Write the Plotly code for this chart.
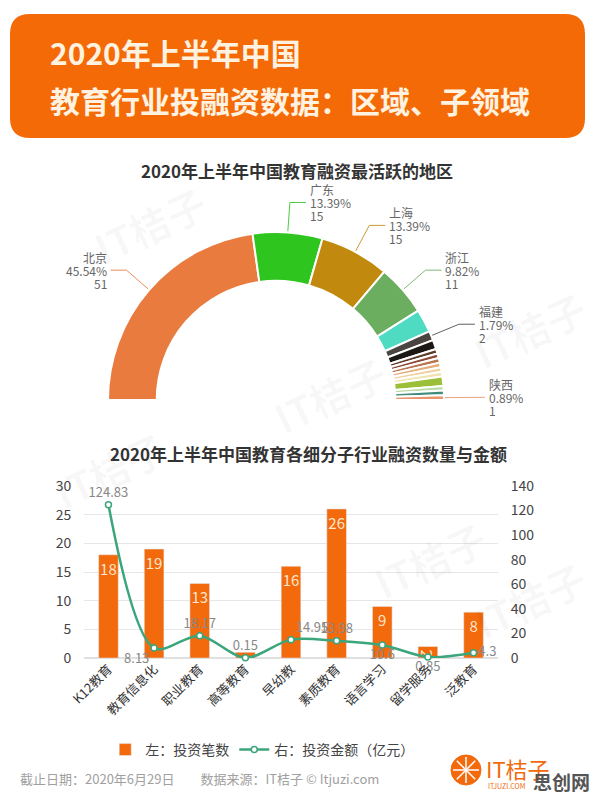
import math
import plotly.graph_objects as go

# ---------------- data ----------------
regions = ['北京', '广东', '上海', '浙江', '江苏', '福建', '湖北', '四川', '天津',
           '湖南', '山东', '安徽', '重庆', '河南', '香港', '辽宁', '陕西']
region_counts = [51, 15, 15, 11, 5, 2, 2, 1, 1, 1, 1, 1, 1, 2, 1, 1, 1]
region_colors = ['#E97B3F', '#2EC51F', '#C1890E', '#6CAE5F', '#4EDBC2', '#4A4540',
                 '#1C1815', '#5C3A28', '#8E4B3A', '#B8764E', '#E4AE7C', '#F0D2A0',
                 '#EFE3B0', '#9CBF3A', '#BBDCA8', '#3E8C7A', '#E8946C']
labeled_regions = ['北京', '广东', '上海', '浙江', '福建', '陕西']

subsectors = ['K12教育', '教育信息化', '职业教育', '高等教育', '早幼教',
              '素质教育', '语言学习', '留学服务', '泛教育']
deal_counts = [18, 19, 13, 1, 16, 26, 9, 2, 8]
amounts = [124.83, 8.13, 18.17, 0.15, 14.95, 13.98, 10.6, 0.85, 4.3]
amount_label_pos = ['top center', 'bottom left', 'top center', 'top center', 'top right',
                    'top center', 'bottom center', 'bottom center', 'middle right']

left_ticks = [0, 5, 10, 15, 20, 25, 30]
right_ticks = [0, 20, 40, 60, 80, 100, 120, 140]

# ---------------- layout constants ----------------
W, H = 596, 796
FONT = 'Noto Sans CJK SC'
cx, cy, R = 276, 400, 168       # donut centre / outer radius in px
HOLE = 0.71
BAR = '#F26A0C'
GREEN = '#3BA57C'


def px_x(v):
    return v / W


def px_y(v):
    return 1 - v / H


fig = go.Figure()

# ---------------- half donut ----------------
total = sum(region_counts)
fig.add_trace(go.Pie(
    labels=regions + ['_hidden'],
    values=region_counts + [total],
    marker=dict(colors=region_colors + ['rgba(0,0,0,0)'],
                line=dict(color=['white'] * len(regions) + ['rgba(0,0,0,0)'],
                          width=[2] * len(regions) + [0])),
    hole=HOLE, sort=False, direction='clockwise', rotation=-90,
    textinfo='none', hoverinfo='skip', showlegend=False,
    domain=dict(x=[px_x(cx - R), px_x(cx + R)], y=[px_y(cy + R), px_y(cy - R)]),
))

# leader lines + labels (computed from slice angles)
annotations = []
cum = 0
for name, val, col in zip(regions, region_counts, region_colors):
    a0 = 180 - cum / total * 180
    cum += val
    a1 = 180 - cum / total * 180
    if name not in labeled_regions:
        continue
    mid = math.radians((a0 + a1) / 2)
    p0 = (cx + (R + 1) * math.cos(mid), cy - (R + 1) * math.sin(mid))
    e = 30 if abs(math.sin(mid)) > 0.05 else 25
    p1 = (cx + (R + e) * math.cos(mid), cy - (R + e) * math.sin(mid))
    side = 1 if math.cos(mid) >= 0 else -1
    p2 = (p1[0] + side * 16, p1[1])
    fig.add_trace(go.Scatter(
        x=[p0[0], p1[0], p2[0]], y=[p0[1], p1[1], p2[1]], mode='lines',
        line=dict(color=col, width=1), opacity=0.85,
        xaxis='x3', yaxis='y3', hoverinfo='skip', showlegend=False))
    lines = [name, f'{val / total * 100:.2f}%', str(val)]
    for k, t in enumerate(lines):
        annotations.append(dict(
            x=p2[0] + side * 2, y=p2[1] + (k - 1) * 13, xref='x3', yref='y3',
            text=t, showarrow=False, xanchor='left' if side > 0 else 'right',
            yanchor='middle', font=dict(family=FONT, size=12, color='#666')))

# ---------------- bar + line chart ----------------
fig.add_trace(go.Bar(
    x=subsectors, y=deal_counts, name='左：投资笔数',
    marker=dict(color=BAR),
    text=[str(v) if v > 1 else '' for v in deal_counts],
    textposition='inside', insidetextanchor='end', constraintext='none',
    textfont=dict(family=FONT, size=15, color='#FFE6CC'),
    xaxis='x', yaxis='y', hoverinfo='skip'))

fig.add_trace(go.Scatter(
    x=subsectors, y=amounts, name='右：投资金额（亿元）',
    mode='lines+markers+text', cliponaxis=False,
    line=dict(color=GREEN, width=2.5, shape='spline', smoothing=0.9),
    marker=dict(size=6, color='white', line=dict(color=GREEN, width=1.5)),
    text=[f'{v:g}' for v in amounts], textposition=amount_label_pos,
    textfont=dict(family=FONT, size=13, color='#888'),
    xaxis='x', yaxis='y2', hoverinfo='skip'))

# ---------------- texts ----------------
annotations += [
    dict(x=48, y=52, xref='x3', yref='y3', text='<b>2020年上半年中国</b>', showarrow=False,
         xanchor='left', yanchor='middle', font=dict(family=FONT, size=30, color='#FFF2E0')),
    dict(x=48, y=100, xref='x3', yref='y3', text='<b>教育行业投融资数据：区域、子领域</b>',
         showarrow=False, xanchor='left', yanchor='middle',
         font=dict(family=FONT, size=30, color='#FFF2E0')),
    dict(x=297, y=170, xref='x3', yref='y3', text='<b>2020年上半年中国教育融资最活跃的地区</b>',
         showarrow=False, xanchor='center', yanchor='middle',
         font=dict(family=FONT, size=17, color='#333')),
    dict(x=308, y=453, xref='x3', yref='y3',
         text='<b>2020年上半年中国教育各细分子行业融资数量与金额</b>',
         showarrow=False, xanchor='center', yanchor='middle',
         font=dict(family=FONT, size=17, color='#333')),
    dict(x=18, y=778, xref='x3', yref='y3',
         text='截止日期：2020年6月29日　　数据来源：IT桔子 © Itjuzi.com',
         showarrow=False, xanchor='left', yanchor='middle',
         font=dict(family=FONT, size=13, color='#A0A0A0')),
    dict(x=484, y=768, xref='x3', yref='y3', text='IT桔子', showarrow=False,
         xanchor='left', yanchor='middle', font=dict(family=FONT, size=22, color='#F26A0C')),
    dict(x=486, y=786, xref='x3', yref='y3', text='ITJUZI.COM', showarrow=False,
         xanchor='left', yanchor='middle', font=dict(family=FONT, size=7, color='#F26A0C')),
    dict(x=592, y=781, xref='x3', yref='y3', text='<b>思创网</b>', showarrow=False,
         xanchor='right', yanchor='middle', font=dict(family=FONT, size=19, color='#555')),
]
# faint watermarks
for wx, wy in [(150, 225), (330, 395), (530, 330), (110, 470), (430, 560), (530, 600)]:
    annotations.append(dict(x=wx, y=wy, xref='x3', yref='y3', text='<b>IT桔子</b>',
                            showarrow=False, textangle=-25,
                            font=dict(family=FONT, size=40, color='rgba(0,0,0,0.03)')))

# ---------------- shapes ----------------
header = ('M 30,14 L 565,14 Q 585,14 585,34 L 585,118 Q 585,138 565,138 '
          'L 30,138 Q 10,138 10,118 L 10,34 Q 10,14 30,14 Z')
shapes = [
    dict(type='path', path=header, xref='x3', yref='y3', fillcolor='#F46A06',
         line=dict(width=0), layer='below'),
    dict(type='circle', x0=451, x1=481, y0=755, y1=785, xref='x3', yref='y3',
         fillcolor='#F26A0C', line=dict(color='#F26A0C', width=1)),
]
for ang in range(0, 180, 45):
    a = math.radians(ang)
    shapes.append(dict(type='line', xref='x3', yref='y3',
                       x0=466 - 13 * math.cos(a), y0=770 - 13 * math.sin(a),
                       x1=466 + 13 * math.cos(a), y1=770 + 13 * math.sin(a),
                       line=dict(color='white', width=1.5)))

fig.update_layout(
    width=W, height=H, margin=dict(l=0, r=0, t=0, b=0, autoexpand=False),
    paper_bgcolor='white', plot_bgcolor='rgba(0,0,0,0)',
    font=dict(family=FONT, color='#444'),
    bargap=0.57,
    xaxis=dict(domain=[px_x(84), px_x(498)], anchor='y', tickangle=-45, automargin=False,
               tickfont=dict(family=FONT, size=13, color='#333'), showgrid=False,
               showline=False, ticks='', fixedrange=True),
    yaxis=dict(domain=[px_y(658), px_y(486)], range=[0, 30], tickvals=left_ticks,
               automargin=False,
               gridcolor='#E6E6E6', gridwidth=1, zeroline=True, zerolinecolor='#E0E0E0',
               showline=False, ticks='outside', ticklen=9, tickcolor='rgba(0,0,0,0)',
               tickfont=dict(family=FONT, size=14, color='#444'), fixedrange=True),
    yaxis2=dict(overlaying='y', side='right', anchor='x', range=[0, 140], automargin=False,
                tickvals=right_ticks, showgrid=False, zeroline=False, showline=False,
                ticks='outside', ticklen=9, tickcolor='rgba(0,0,0,0)',
                tickfont=dict(family=FONT, size=14, color='#444'), fixedrange=True),
    xaxis3=dict(domain=[0, 1], range=[0, W], visible=False, anchor='y3', fixedrange=True,
                automargin=False),
    yaxis3=dict(domain=[0, 1], range=[H, 0], visible=False, anchor='x3', fixedrange=True,
                automargin=False),
    legend=dict(orientation='h', x=0.44, xanchor='center', y=px_y(750), yanchor='middle',
                font=dict(family=FONT, size=14, color='#444'), bgcolor='rgba(0,0,0,0)',
                itemwidth=30),
    annotations=annotations,
    shapes=shapes,
)

fig.write_html('out.html', config={'displayModeBar': False},
               post_script="document.body.style.margin='0';document.body.style.overflow='hidden';")
